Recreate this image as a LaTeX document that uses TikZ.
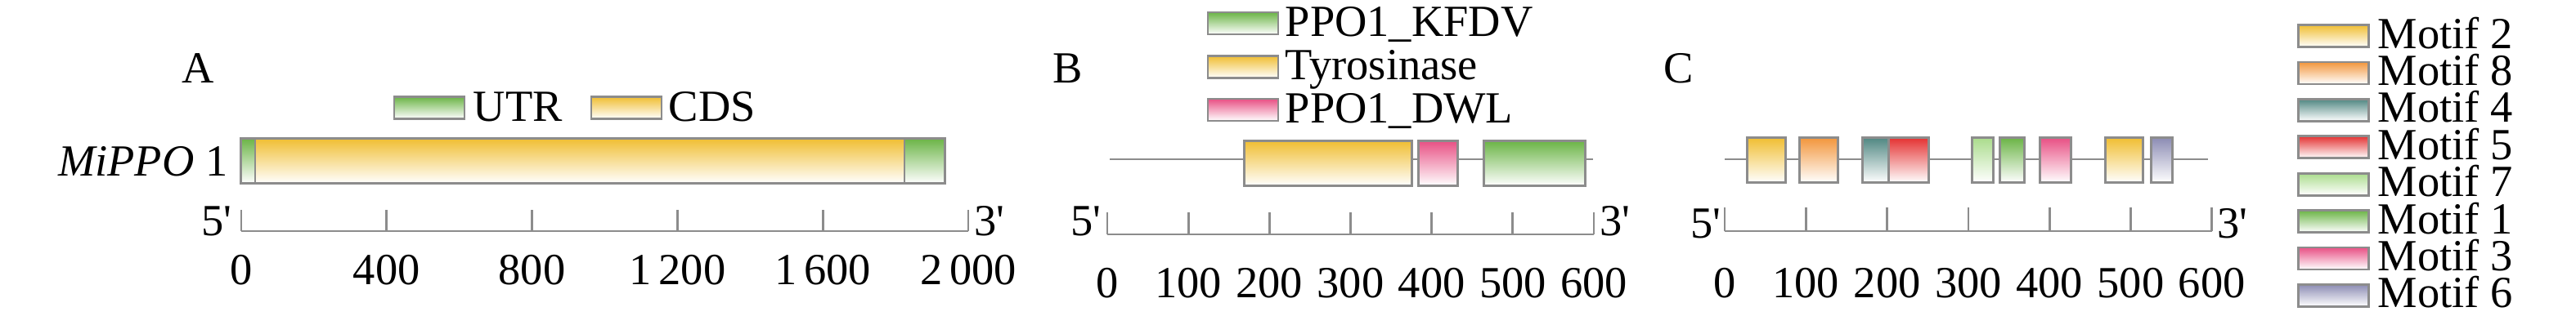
\documentclass[tikz,border=0pt]{standalone}
\usepackage{fontspec}
\setmainfont{Liberation Serif}
\usetikzlibrary{positioning}
\definecolor{linegray}{RGB}{140,140,140}
\definecolor{motyellow}{RGB}{240,190,50}
\definecolor{motorange}{RGB}{242,150,60}
\definecolor{motteal}{RGB}{80,135,130}
\definecolor{motred}{RGB}{228,50,50}
\definecolor{motlgreen}{RGB}{170,220,140}
\definecolor{motgreen}{RGB}{107,180,70}
\definecolor{motpink}{RGB}{232,80,132}
\definecolor{motlav}{RGB}{140,140,180}

\begin{document}
\begin{tikzpicture}[
    seg/.style={rectangle, draw=linegray, line width=0.8pt, inner sep=0pt, minimum height=0.55cm},
    legbox/.style={rectangle, draw=linegray, line width=0.8pt, inner sep=0pt, minimum width=0.86cm, minimum height=0.27cm},
    lbl/.style={font=\fontsize{15.5}{18}\selectfont, inner sep=0pt},
    scaleline/.style={draw=linegray, line width=0.8pt}
]
    \useasboundingbox (0,0) rectangle (31.5,3.97);

    % A : structure du gene
    \node[lbl, anchor=base] (titleA) at (2.42,2.96) {A};
    \node[legbox, top color=motgreen, bottom color=white] (legUTR) at (5.25,2.65) {};
    \node[lbl, anchor=base west] (legUTRtxt) at (5.78,2.49) {UTR};
    \node[legbox, top color=motyellow, bottom color=white] (legCDS) at (7.66,2.65) {};
    \node[lbl, anchor=base west] (legCDStxt) at (8.17,2.49) {CDS};

    \node[lbl, anchor=base east] (gene) at (2.79,1.82) {\textit{MiPPO} 1};
    \foreach \s/\e/\c/\n in {2.945/3.12/motgreen/utr5, 3.12/11.06/motyellow/cds, 11.06/11.555/motgreen/utr3} {
        \node[seg, top color=\c, bottom color=white, minimum width={(\e-\s)*1cm}] (\n) at ({(\s+\e)/2},2.00) {};
    }

    % echelle A
    \coordinate (axA0) at (2.95,1.14);
    \coordinate (axA1) at (11.84,1.14);
    \draw[scaleline] (axA0) -- (axA1);
    \foreach \k/\v in {0/0, 1/400, 2/800, 3/{1\,200}, 4/{1\,600}, 5/{2\,000}} {
        \draw[scaleline] ({2.95+\k*1.778},1.14) -- ++(0,0.26);
        \node[lbl, anchor=base] (tickA\k) at ({2.95+\k*1.778},0.49) {\v};
    }
    \node[lbl, anchor=base east] (fiveA) at (2.84,1.09) {5\textquotesingle};
    \node[lbl, anchor=base west] (threeA) at (11.91,1.09) {3\textquotesingle};

    % B : domaines
    \node[lbl, anchor=base] (titleB) at (13.06,2.96) {B};
    \foreach \y/\c/\t/\n in {3.685/motgreen/{PPO1\textunderscore KFDV}/legKFDV, 3.15/motyellow/{Tyrosinase}/legTyr, 2.625/motpink/{PPO1\textunderscore DWL}/legDWL} {
        \node[legbox, top color=\c, bottom color=white] (\n) at (15.20,\y) {};
        \node[lbl, anchor=base west] (\n txt) at (15.71,\y-0.155) {\t};
    }
    \coordinate (bS) at (13.57,2.02);
    \coordinate (bE) at (19.48,2.02);
    \draw[scaleline] (bS) -- (bE);
    \foreach \s/\e/\c/\n in {15.215/17.265/motyellow/tyr, 17.345/17.825/motpink/dwl, 18.145/19.385/motgreen/kfdv} {
        \node[seg, top color=\c, bottom color=white, minimum width={(\e-\s)*1cm}] (\n) at ({(\s+\e)/2},1.97) {};
    }

    % echelle B
    \coordinate (axB0) at (13.54,1.10);
    \coordinate (axB1) at (19.49,1.10);
    \draw[scaleline] (axB0) -- (axB1);
    \foreach \k in {0,...,6} {
        \draw[scaleline] ({13.54+\k*0.9917},1.10) -- ++(0,0.27);
        \node[lbl, anchor=base] (tickB\k) at ({13.54+\k*0.9917},0.33) {\pgfmathparse{int(\k*100)}\pgfmathresult};
    }
    \node[lbl, anchor=base east] (fiveB) at (13.47,1.09) {5\textquotesingle};
    \node[lbl, anchor=base west] (threeB) at (19.56,1.09) {3\textquotesingle};

    % C : motifs
    \node[lbl, anchor=base] (titleC) at (20.53,2.96) {C};
    \coordinate (cS) at (21.09,2.02);
    \coordinate (cE) at (27.00,2.02);
    \draw[scaleline] (cS) -- (cE);
    \foreach \s/\e/\c/\n in {21.365/21.835/motyellow/mA, 22.005/22.475/motorange/mB, 22.775/23.095/motteal/mC,
                             23.095/23.585/motred/mD, 24.115/24.375/motlgreen/mE, 24.455/24.755/motgreen/mF,
                             24.945/25.325/motpink/mG, 25.745/26.205/motyellow/mH, 26.305/26.565/motlav/mI} {
        \node[seg, top color=\c, bottom color=white, minimum width={(\e-\s)*1cm}] (\n) at ({(\s+\e)/2},2.01) {};
    }

    % echelle C
    \coordinate (axC0) at (21.09,1.14);
    \coordinate (axC1) at (27.05,1.14);
    \draw[scaleline] (axC0) -- (axC1);
    \foreach \k in {0,...,6} {
        \draw[scaleline] ({21.09+\k*0.993},1.14) -- ++(0,0.29);
        \node[lbl, anchor=base] (tickC\k) at ({21.09+\k*0.993},0.33) {\pgfmathparse{int(\k*100)}\pgfmathresult};
    }
    \node[lbl, anchor=base east] (fiveC) at (21.05,1.06) {5\textquotesingle};
    \node[lbl, anchor=base west] (threeC) at (27.11,1.06) {3\textquotesingle};

    % legende des motifs
    \foreach \k/\m/\c in {0/2/motyellow, 1/8/motorange, 2/4/motteal, 3/5/motred, 4/7/motlgreen, 5/1/motgreen, 6/3/motpink, 7/6/motlav} {
        \node[legbox, top color=\c, bottom color=white] (legM\m) at (28.535,{3.53-\k*0.454}) {};
        \node[lbl, anchor=base west] (legM\m txt) at (29.07,{3.38-\k*0.454}) {Motif \m};
    }
\end{tikzpicture}
\end{document}
